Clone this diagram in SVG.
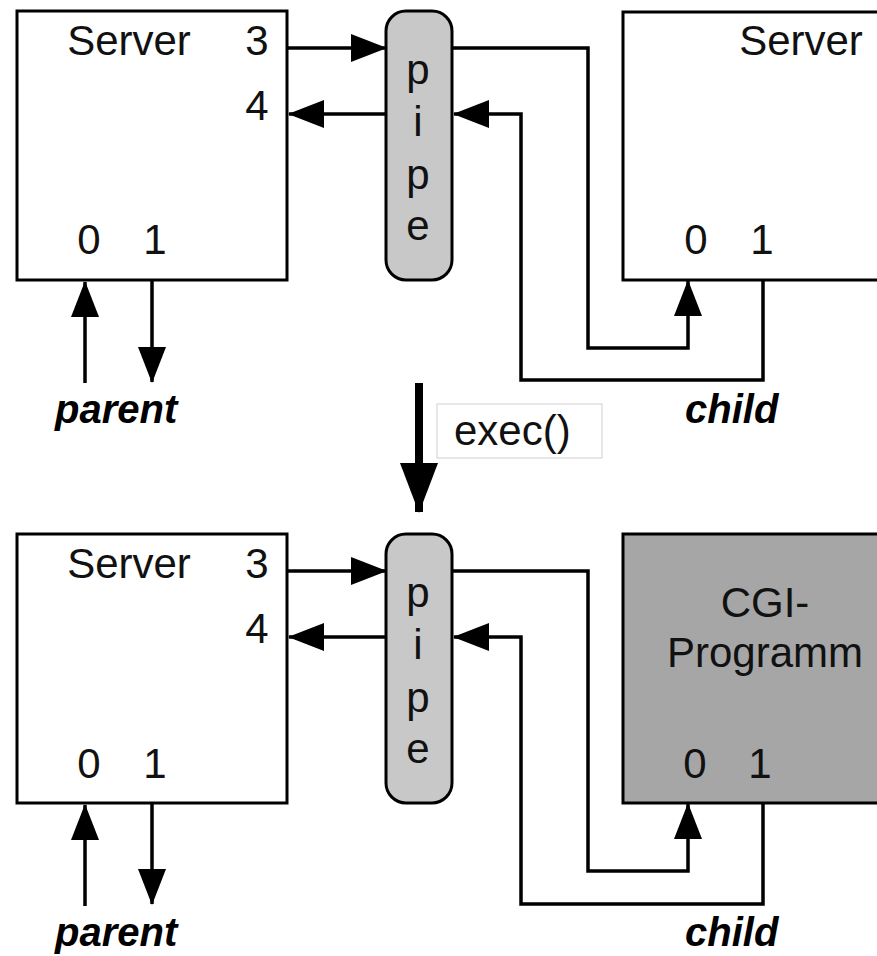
<svg xmlns="http://www.w3.org/2000/svg" width="877" height="956" viewBox="0 0 877 956">
<defs>
<style>
.box{fill:#fff;stroke:#000;stroke-width:3}
.cgi{fill:#a6a6a6;stroke:#000;stroke-width:3}
.pipe{fill:#c8c8c8;stroke:#000;stroke-width:3}
.t{font-family:"Liberation Sans",Arial,sans-serif;font-size:42px;fill:#111}
.m{text-anchor:middle}
.lbl{font-family:"Liberation Sans",Arial,sans-serif;font-size:40px;font-weight:bold;font-style:italic;fill:#000}
.c{fill:none;stroke:#000;stroke-width:3.5}
.ar{marker-end:url(#ah)}
</style>
<marker id="ah" markerUnits="userSpaceOnUse" markerWidth="36" markerHeight="30" refX="35" refY="14" orient="auto" viewBox="0 0 36 28">
<path d="M0,0 L36,14 L0,28 z" fill="#000"/>
</marker>
<marker id="big" markerUnits="userSpaceOnUse" markerWidth="50" markerHeight="40" refX="49" refY="19" orient="auto" viewBox="0 0 50 38">
<path d="M0,0 L50,19 L0,38 z" fill="#000"/>
</marker>
</defs>

<g id="server-parent-top">
<rect class="box" x="17" y="11" width="270" height="269"/>
<text class="t m" x="129" y="55">Server</text>
<text class="t m" x="257" y="55">3</text>
<text class="t m" x="257" y="120">4</text>
<text class="t m" x="89" y="254">0</text>
<text class="t m" x="155" y="254">1</text>
</g>

<g id="pipe-top">
<rect class="pipe" x="386" y="11" width="66" height="269" rx="20"/>
<text class="t m" x="418" y="84">p</text>
<text class="t m" x="418" y="136">i</text>
<text class="t m" x="418" y="189">p</text>
<text class="t m" x="418" y="240">e</text>
</g>

<g id="server-child-top">
<rect class="box" x="623" y="12" width="270" height="268"/>
<text class="t m" x="801" y="55">Server</text>
<text class="t m" x="696" y="254">0</text>
<text class="t m" x="762" y="254">1</text>
</g>

<g id="server-parent-bottom">
<rect class="box" x="17" y="534" width="270" height="269"/>
<text class="t m" x="129" y="578">Server</text>
<text class="t m" x="257" y="578">3</text>
<text class="t m" x="257" y="643">4</text>
<text class="t m" x="89" y="778">0</text>
<text class="t m" x="155" y="778">1</text>
</g>

<g id="pipe-bottom">
<rect class="pipe" x="386" y="534" width="66" height="269" rx="20"/>
<text class="t m" x="418" y="607">p</text>
<text class="t m" x="418" y="659">i</text>
<text class="t m" x="418" y="712">p</text>
<text class="t m" x="418" y="763">e</text>
</g>

<g id="cgi-programm">
<rect class="cgi" x="623" y="534" width="270" height="269"/>
<text class="t m" x="765" y="617">CGI-</text>
<text class="t m" x="765" y="667">Programm</text>
<text class="t m" x="695" y="778">0</text>
<text class="t m" x="760" y="778">1</text>
</g>

<g id="labels">
<text class="lbl" x="55" y="423">parent</text>
<text class="lbl" x="685" y="423">child</text>
<text class="lbl" x="55" y="946">parent</text>
<text class="lbl" x="685" y="946">child</text>
</g>

<g id="exec-label">
<rect x="437" y="404" width="165" height="54" fill="#fff" stroke="#cfcfcf" stroke-width="1"/>
<text class="t" x="454" y="445">exec()</text>
</g>

<g id="connectors">
<path class="c ar" d="M287,48 H386"/>
<path class="c ar" d="M386,114 H289"/>
<path class="c ar" d="M452,48 H588 V348 H688 V281"/>
<path class="c ar" d="M763,280 V380 H521 V114 H454"/>
<path class="c ar" d="M85,383 V282"/>
<path class="c ar" d="M152,280 V382"/>

<path class="c ar" d="M287,571 H386"/>
<path class="c ar" d="M386,637 H289"/>
<path class="c ar" d="M452,571 H588 V871 H688 V804"/>
<path class="c ar" d="M763,803 V904 H521 V637 H454"/>
<path class="c ar" d="M85,906 V805"/>
<path class="c ar" d="M152,803 V904"/>

<path d="M419,383 V512" fill="none" stroke="#000" stroke-width="8" marker-end="url(#big)"/>
</g>
</svg>
